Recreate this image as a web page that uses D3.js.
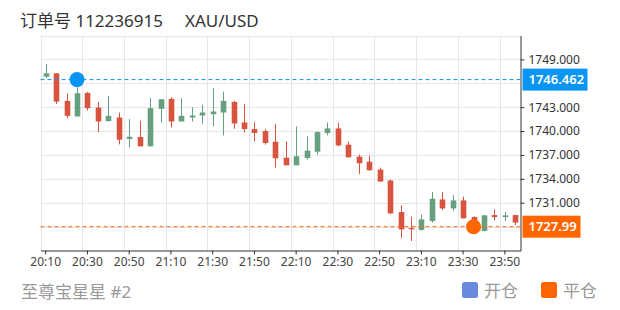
<!DOCTYPE html>
<html>
<head>
<meta charset="utf-8">
<script src="https://cdn.jsdelivr.net/npm/d3@7"></script>
<style>
  body { margin: 0; background: #fff; }
  text { font-family: "Noto Sans", "Noto Sans CJK SC", sans-serif; }
</style>
</head>
<body>
<div id="chart"></div>
<script>
// 5 minute candles
var TIMES = ["20:10","20:15","20:20","20:25","20:30","20:35","20:40","20:45","20:50","20:55",
  "21:00","21:05","21:10","21:15","21:20","21:25","21:30","21:35","21:40","21:45",
  "21:50","21:55","22:00","22:05","22:10","22:15","22:20","22:25","22:30","22:35",
  "22:40","22:45","22:50","22:55","23:00","23:05","23:10","23:15","23:20","23:25",
  "23:30","23:35","23:40","23:45","23:50","23:55"];
var OPEN = [1746.83,1747.25,1743.79,1741.83,1744.79,1742.95,1741.25,1741.70,1739.00,1739.25,
  1738.08,1742.79,1744.04,1741.20,1741.70,1741.95,1742.12,1742.33,1743.66,1741.08,
  1740.25,1740.00,1738.66,1736.66,1735.70,1736.62,1737.41,1739.75,1740.33,1738.29,
  1736.79,1736.16,1735.16,1733.79,1729.83,1727.83,1727.58,1728.70,1731.41,1730.29,
  1731.29,1729.20,1727.46,1729.45,1729.20,1729.45];
var HIGH = [1748.41,1747.25,1744.75,1746.50,1744.91,1743.66,1744.41,1742.33,1741.50,1741.29,
  1744.16,1744.00,1744.25,1744.12,1743.00,1743.29,1745.37,1744.95,1743.79,1743.41,
  1741.12,1740.29,1740.87,1738.70,1740.58,1739.33,1739.95,1741.08,1741.00,1738.70,
  1737.04,1736.91,1735.41,1733.91,1730.66,1729.25,1729.54,1732.37,1732.37,1731.95,
  1731.75,1729.30,1729.50,1730.16,1729.83,1729.45];
var LOW = [1746.70,1743.40,1741.60,1741.83,1742.58,1739.88,1741.20,1738.33,1737.95,1738.08,
  1738.08,1741.08,1740.45,1741.20,1741.20,1740.91,1740.58,1739.45,1740.29,1739.83,
  1738.70,1738.29,1735.41,1735.70,1735.70,1736.41,1737.04,1739.45,1738.08,1736.70,
  1734.58,1735.00,1733.66,1729.60,1726.54,1726.20,1727.50,1728.50,1730.08,1729.95,
  1729.04,1727.80,1727.40,1728.79,1728.70,1728.20];
var CLOSE = [1747.25,1743.70,1741.91,1744.75,1742.87,1741.20,1741.91,1738.91,1739.29,1738.08,
  1742.87,1744.00,1741.20,1741.91,1741.95,1742.33,1742.45,1743.79,1740.95,1740.25,
  1739.75,1738.50,1736.58,1735.70,1736.83,1737.54,1739.87,1740.33,1738.20,1736.70,
  1735.95,1735.08,1733.66,1729.66,1727.66,1727.66,1728.91,1731.50,1730.29,1731.29,
  1729.04,1728.04,1729.41,1729.20,1729.41,1728.50];

var GRID_Y = [1728,1731,1734,1737,1740,1743,1746,1749,1752];
var Y_LABELS = [1731,1734,1737,1740,1743,1749]; // 1728 and 1746 sit under the price boxes
var OPEN_TRADE = {time: "20:25", price: 1746.462};
var CLOSE_TRADE = {time: "23:35", price: 1727.99};
var LEGEND = ["开仓", "平仓"];

var UP = "#67a07f", DOWN = "#d8543f";
var BLUE = "#0a95f5", ORANGE = "#ff6600";

var W = 620, H = 310;
var LEFT = 40.5, RIGHT = 520.5, TOP = 35.5, BOTTOM = 250.5;

var svg = d3.select("#chart").append("svg")
  .attr("width", W).attr("height", H);

var x = d3.scaleBand().domain(TIMES).range([LEFT, RIGHT]).padding(0);
var y = d3.scaleLinear().domain([1725, 1752]).range([BOTTOM, TOP]);

// grid
var xTicks = TIMES.filter(function(d, i){ return i % 4 == 0; });
svg.append("g").selectAll("line").data(xTicks).enter().append("line")
  .attr("x1", function(d){ return Math.round(x(d)) + 0.5; })
  .attr("x2", function(d){ return Math.round(x(d)) + 0.5; })
  .attr("y1", TOP).attr("y2", BOTTOM)
  .attr("stroke", "#e6e6e6");
svg.append("g").selectAll("line").data(GRID_Y).enter().append("line")
  .attr("x1", LEFT).attr("x2", RIGHT)
  .attr("y1", function(d){ return Math.round(y(d)) + 0.5; })
  .attr("y2", function(d){ return Math.round(y(d)) + 0.5; })
  .attr("stroke", "#e6e6e6");

// axes
var xAxis = svg.append("g")
  .attr("transform", "translate(0," + BOTTOM + ")")
  .call(d3.axisBottom(x).tickValues(xTicks).tickSize(4).tickSizeOuter(0).tickPadding(3));
xAxis.selectAll("text").attr("font-size", 12).attr("fill", "#444");
xAxis.selectAll("line,path").attr("stroke", "#333");

var yAxis = svg.append("g")
  .attr("transform", "translate(" + RIGHT + ",0)")
  .call(d3.axisRight(y).tickValues(Y_LABELS).tickFormat(d3.format(".3f"))
    .tickSize(4).tickSizeOuter(0).tickPadding(4));
yAxis.selectAll("text").attr("font-size", 12).attr("fill", "#333");
yAxis.selectAll("line,path").attr("stroke", "#333");

// candles
var idx = d3.range(TIMES.length);
var bw = 5.6;
var c = svg.append("g").selectAll("g").data(idx).enter().append("g");
c.append("line")
  .attr("x1", function(i){ return Math.round(x(TIMES[i]) + x.bandwidth()/2) + 0.5; })
  .attr("x2", function(i){ return Math.round(x(TIMES[i]) + x.bandwidth()/2) + 0.5; })
  .attr("y1", function(i){ return y(HIGH[i]); })
  .attr("y2", function(i){ return y(LOW[i]); })
  .attr("stroke", function(i){ return CLOSE[i] >= OPEN[i] ? UP : DOWN; });
c.append("rect")
  .attr("x", function(i){ return Math.round(x(TIMES[i]) + x.bandwidth()/2) + 0.5 - bw/2; })
  .attr("width", bw)
  .attr("y", function(i){ return y(Math.max(OPEN[i], CLOSE[i])); })
  .attr("height", function(i){ return Math.max(1.2, Math.abs(y(OPEN[i]) - y(CLOSE[i]))); })
  .attr("fill", function(i){ return CLOSE[i] >= OPEN[i] ? UP : DOWN; });

// trade lines + markers
function tradeLine(t, col, fmt, boxW){
  var yy = y(t.price);
  svg.append("line").attr("x1", LEFT).attr("x2", RIGHT)
    .attr("y1", yy).attr("y2", yy)
    .attr("stroke", col).attr("stroke-dasharray", "4,3");
  svg.append("circle")
    .attr("cx", x(t.time) + x.bandwidth()/2).attr("cy", yy).attr("r", 7.5)
    .attr("fill", col);
  svg.append("rect").attr("x", RIGHT + 2).attr("y", yy - 11)
    .attr("width", boxW).attr("height", 22).attr("fill", col);
  svg.append("text").attr("x", RIGHT + 8).attr("y", yy + 4.5)
    .attr("font-size", 13).attr("font-weight", 600).attr("fill", "#fff")
    .text(d3.format(fmt)(t.price));
}
tradeLine(OPEN_TRADE, BLUE, ".3f", 65);
tradeLine(CLOSE_TRADE, ORANGE, ".2f", 58);

// title
svg.append("text").attr("x", 20).attr("y", 27).attr("font-size", 17).attr("fill", "#333")
  .text("订单号 112236915");
svg.append("text").attr("x", 185).attr("y", 27).attr("font-size", 17).attr("fill", "#333")
  .text("XAU/USD");

// footer
svg.append("text").attr("x", 21).attr("y", 298).attr("font-size", 17).attr("fill", "#999")
  .text("至尊宝星星 #2");
var legCols = ["#6a8ae0", ORANGE];
var legX = [462, 541];
LEGEND.forEach(function(d, i){
  svg.append("rect").attr("x", legX[i]).attr("y", 282).attr("width", 16).attr("height", 16)
    .attr("rx", 2.5).attr("fill", legCols[i]);
  svg.append("text").attr("x", legX[i] + 22).attr("y", 297).attr("font-size", 17)
    .attr("fill", "#999").text(d);
});
</script>
</body>
</html>
